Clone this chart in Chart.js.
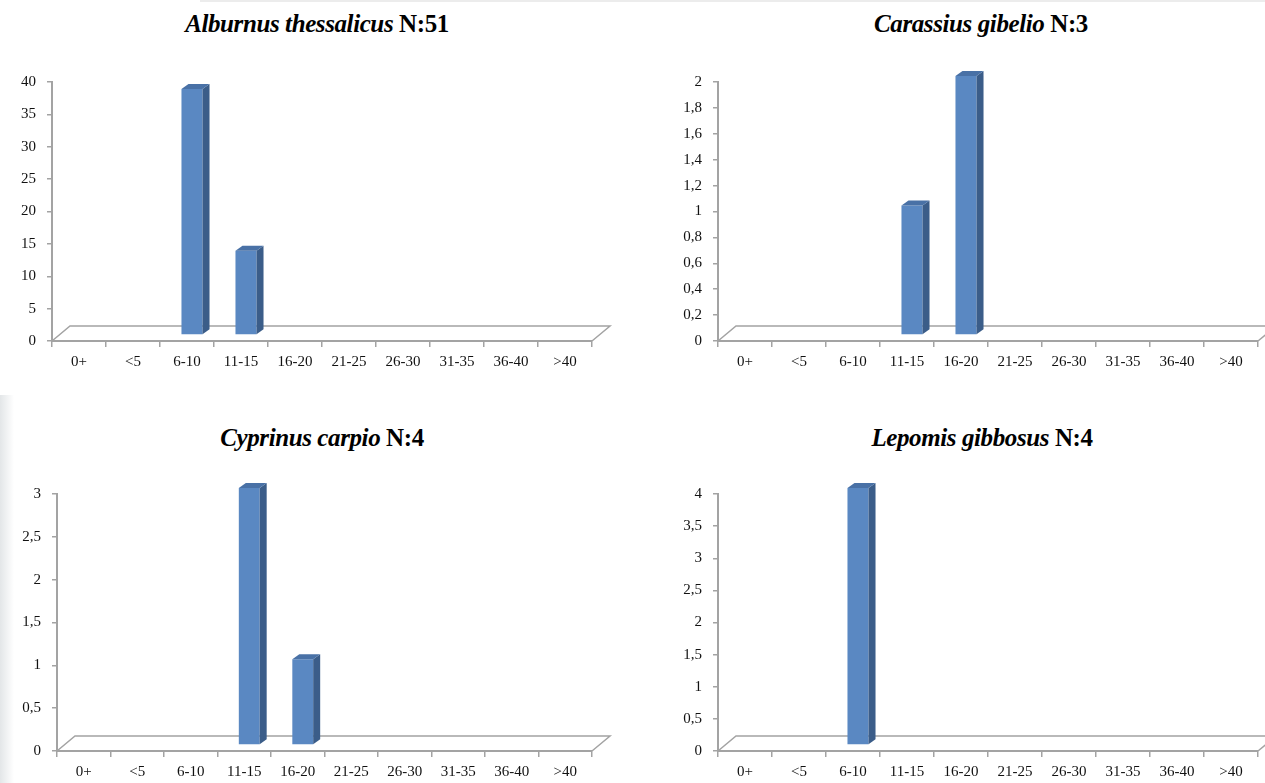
<!DOCTYPE html>
<html>
<head>
<meta charset="utf-8">
<title>Length classes</title>
<script src="https://cdn.jsdelivr.net/npm/chart.js@4.4.0/dist/chart.umd.min.js"></script>
<style>
  body { margin: 0; background: #fff; width: 1265px; height: 783px; overflow: hidden; position: relative; }
  .box { position: absolute; }
  .titulo { position: absolute; font-family: "Liberation Serif", "Times New Roman", serif; font-weight: bold;
            font-size: 25px; line-height: 25px; letter-spacing: -0.4px; white-space: nowrap;
            transform: translateX(-50%); color: #000; }
  .faixa { position: absolute; left: 0; top: 395px; width: 14px; height: 388px;
           background: linear-gradient(to right, #e3e6e8, #fff); }
  .topo { position: absolute; left: 200px; top: 0; width: 1065px; height: 2px; background: #ececec; }
</style>
</head>
<body>
<div class="topo"></div>
<div class="faixa"></div>

<div class="titulo" style="left:317px; top:11px"><i>Alburnus thessalicus</i> N:51</div>
<div class="titulo" style="left:981px; top:11px"><i>Carassius gibelio</i> N:3</div>
<div class="titulo" style="left:322px; top:425px"><i>Cyprinus carpio</i> N:4</div>
<div class="titulo" style="left:982px; top:425px"><i>Lepomis gibbosus</i> N:4</div>

<div class="box" style="left:0; top:0; width:640px; height:392px"><canvas id="c1"></canvas></div>
<div class="box" style="left:640px; top:0; width:625px; height:392px"><canvas id="c2"></canvas></div>
<div class="box" style="left:0; top:392px; width:640px; height:391px"><canvas id="c3"></canvas></div>
<div class="box" style="left:640px; top:392px; width:625px; height:391px"><canvas id="c4"></canvas></div>

<script>
// length classes (cm)
var classes = ['0+', '<5', '6-10', '11-15', '16-20', '21-25', '26-30', '31-35', '36-40', '>40'];

// number of fish per class
var alburnus = [0, 0, 38, 13, 0, 0, 0, 0, 0, 0];
var carassius = [0, 0, 0, 1, 2, 0, 0, 0, 0, 0];
var cyprinus = [0, 0, 0, 3, 1, 0, 0, 0, 0, 0];
var lepomis = [0, 0, 4, 0, 0, 0, 0, 0, 0, 0];

// value axis: max and step of each chart
var yMax = [40, 2, 3, 4];
var yStep = [5, 0.2, 0.5, 0.5];

var corEixo = '#a3a3a3';
var fonte = { family: '"Liberation Serif", "Times New Roman", serif', size: 15 };

// floor and 3D sides of the bars
var bar3d = {
  id: 'bar3d',
  beforeDatasetsDraw: function(chart) {
    var a = chart.chartArea, ctx = chart.ctx;
    ctx.save();
    ctx.strokeStyle = corEixo;
    ctx.lineWidth = 1.5;
    ctx.beginPath();
    ctx.moveTo(a.left, a.bottom);
    ctx.lineTo(a.left + 18, a.bottom - 15);
    ctx.lineTo(a.right + 18, a.bottom - 15);
    ctx.lineTo(a.right, a.bottom);
    ctx.stroke();
    ctx.restore();
    ctx.save();
    ctx.translate(5, -6);
  },
  afterDatasetsDraw: function(chart) {
    var ctx = chart.ctx;
    var meta = chart.getDatasetMeta(0);
    var valores = chart.data.datasets[0].data;
    meta.data.forEach(function(bar, i) {
      if (!valores[i]) return;
      var p = bar.getProps(['x', 'y', 'base', 'width'], true);
      var l = p.x - p.width / 2, r = p.x + p.width / 2;
      ctx.fillStyle = '#3b5d89';
      ctx.beginPath();
      ctx.moveTo(r, p.y);
      ctx.lineTo(r + 7, p.y - 5);
      ctx.lineTo(r + 7, p.base - 5);
      ctx.lineTo(r, p.base);
      ctx.closePath();
      ctx.fill();
      ctx.fillStyle = '#4971a6';
      ctx.beginPath();
      ctx.moveTo(l, p.y);
      ctx.lineTo(l + 7, p.y - 5);
      ctx.lineTo(r + 7, p.y - 5);
      ctx.lineTo(r, p.y);
      ctx.closePath();
      ctx.fill();
    });
    ctx.restore();
  }
};

function criarGrafico(id, valores, max, passo, area) {
  var box = document.getElementById(id).parentNode;
  var largura = box.clientWidth, altura = box.clientHeight;
  return new Chart(document.getElementById(id), {
    type: 'bar',
    data: {
      labels: classes,
      datasets: [{
        data: valores,
        backgroundColor: '#5a88c2',
        borderWidth: 0,
        categoryPercentage: 1,
        barPercentage: 0.39,
        clip: false
      }]
    },
    options: {
      responsive: true,
      maintainAspectRatio: false,
      animation: false,
      events: [],
      layout: { padding: { top: area.top, right: largura - area.right, left: 0, bottom: 0 } },
      plugins: { legend: { display: false }, tooltip: { enabled: false }, title: { display: false } },
      scales: {
        x: {
          afterFit: function(scale) { scale.height = altura - area.bottom; },
          grid: { drawOnChartArea: false, offset: true, tickLength: 6, color: corEixo, lineWidth: 1.5 },
          border: { color: corEixo, width: 2 },
          ticks: { font: fonte, color: '#111', padding: 6, maxRotation: 0, autoSkip: false }
        },
        y: {
          min: 0,
          max: max,
          afterFit: function(scale) { scale.width = area.left; },
          grid: { drawOnChartArea: false, tickLength: 5, color: corEixo, lineWidth: 1.5 },
          border: { color: corEixo, width: 2 },
          ticks: {
            stepSize: passo,
            font: fonte,
            color: '#111',
            padding: 11,
            callback: function(v) { return String(Math.round(v * 10) / 10).replace('.', ','); }
          }
        }
      }
    },
    plugins: [bar3d]
  });
}

document.addEventListener('DOMContentLoaded', function() {
  criarGrafico('c1', alburnus, yMax[0], yStep[0], { left: 52, right: 592, top: 82, bottom: 341 });
  criarGrafico('c2', carassius, yMax[1], yStep[1], { left: 78, right: 618, top: 82, bottom: 341 });
  criarGrafico('c3', cyprinus, yMax[2], yStep[2], { left: 57, right: 592, top: 102, bottom: 359 });
  criarGrafico('c4', lepomis, yMax[3], yStep[3], { left: 78, right: 618, top: 102, bottom: 359 });
});
</script>
</body>
</html>
